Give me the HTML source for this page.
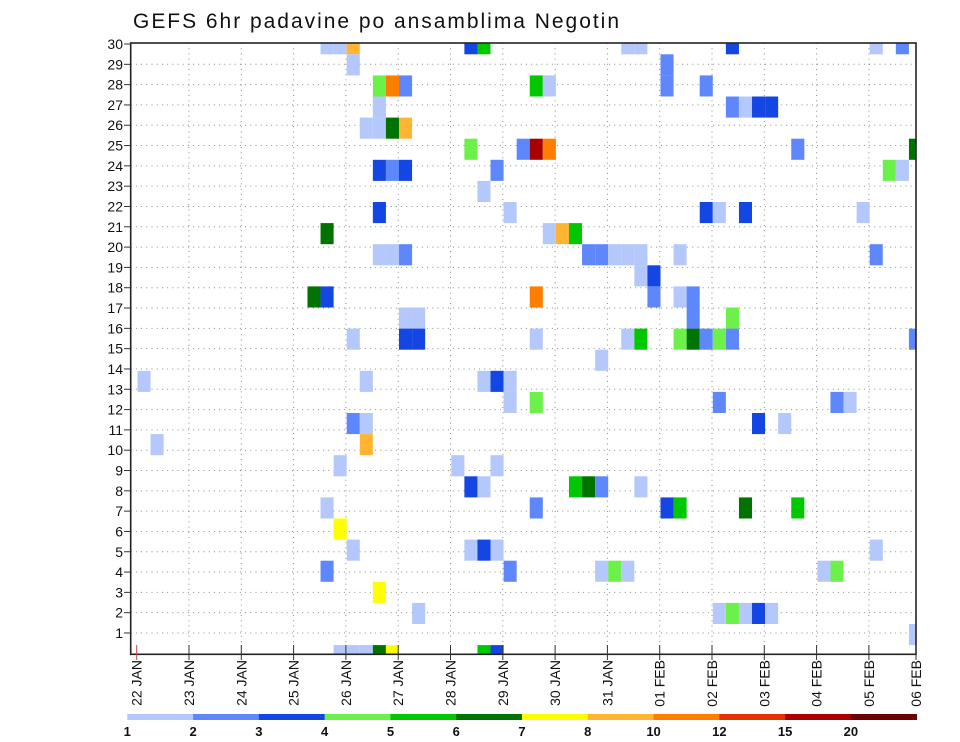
<!DOCTYPE html>
<html><head><meta charset="utf-8">
<style>
html,body{margin:0;padding:0;background:#fff;}
svg{display:block;font-family:"Liberation Sans",sans-serif;}
</style></head>
<body>
<svg id="chart" width="960" height="742" viewBox="0 0 960 742" xmlns="http://www.w3.org/2000/svg">
<text x="133" y="28" font-size="21" textLength="486" lengthAdjust="spacing" fill="#111">GEFS 6hr padavine po ansamblima Negotin</text>
<g id="grid"></g>
<g id="cells"></g>
<rect x="130.7" y="43" width="785.3" height="611.3" fill="none" stroke="#222" stroke-width="1.6"/>
<g id="axes"></g>
<g id="legend"></g>
</svg>
<script>
// ---- data ----
const dateLabels = ["22 JAN","23 JAN","24 JAN","25 JAN","26 JAN","27 JAN","28 JAN","29 JAN","30 JAN","31 JAN","01 FEB","02 FEB","03 FEB","04 FEB","05 FEB","06 FEB"];
const memberLabels = [1,2,3,4,5,6,7,8,9,10,11,12,13,14,15,16,17,18,19,20,21,22,23,24,25,26,27,28,29,30];
const legendLevels = [1,2,3,4,5,6,7,8,10,12,15,20];
const legendColors = ["#b4c8fc","#5f87fc","#1446e4","#6cf04a","#00c800","#007300","#ffff00","#ffb432","#ff7d00","#e63200","#aa0000","#6e0000"];
// cells: member, 6-hour step index from 22 JAN 00Z, precipitation (mm)
const cellMember = [
30,30,30,30,30,30,30,30,30,30,
29,29,
28,28,28,28,28,28,28,
27,27,27,27,27,
26,26,26,26,
25,25,25,25,25,25,
24,24,24,24,24,24,
23,
22,22,22,22,22,22,
21,21,21,21,
20,20,20,20,20,20,20,20,20,20,
19,19,
18,18,18,18,18,18,
17,17,17,17,
16,16,16,16,16,16,16,16,16,16,16,16,
15,
14,14,14,14,14,
13,13,13,13,13,
12,12,12,12,
11,11,
10,10,10,
9,9,9,9,9,9,
8,8,8,8,8,8,
7,
6,6,6,6,6,
5,5,5,5,5,5,5,
4,
3,3,3,3,3,3,
2,
1,1,1,1,1,1,1];
const cellStep = [
14,15,16,25,26,37,38,45,56,58,
16,40,
18,19,20,30,31,40,43,
18,45,46,47,48,
17,18,19,20,
25,29,30,31,50,59,
18,19,20,27,57,58,
26,
18,28,43,44,46,55,
14,31,32,33,
18,19,20,34,35,36,37,38,41,56,
38,39,
13,14,30,39,41,42,
20,21,42,45,
16,20,21,30,37,38,41,42,43,44,45,59,
35,
0,17,26,27,28,
28,30,44,53,54,
16,17,47,49,
1,17,
15,24,27,
25,26,33,34,35,38,
14,30,40,41,46,50,
15,
16,25,26,27,56,
14,28,35,36,37,52,53,
18,
21,44,45,46,47,48,
59,
15,16,17,18,19,26,27];
const cellValue = [
1.5,1.5,9,3.5,5.5,1.5,1.5,3.5,1.5,2.5,
1.5,2.5,
4.5,11,2.5,5.5,1.5,2.5,2.5,
1.5,2.5,1.5,3.5,3.5,
1.5,1.5,6.5,9,
4.5,2.5,17.5,11,2.5,6.5,
3.5,2.5,3.5,2.5,4.5,1.5,
1.5,
3.5,1.5,3.5,1.5,3.5,1.5,
6.5,1.5,9,5.5,
1.5,1.5,2.5,2.5,2.5,1.5,1.5,1.5,1.5,2.5,
1.5,3.5,
6.5,3.5,11,2.5,1.5,2.5,
1.5,1.5,2.5,4.5,
1.5,3.5,3.5,1.5,1.5,5.5,4.5,6.5,2.5,4.5,2.5,2.5,
1.5,
1.5,1.5,1.5,3.5,1.5,
1.5,4.5,2.5,2.5,1.5,
2.5,1.5,3.5,1.5,
1.5,9,
1.5,1.5,1.5,
3.5,1.5,5.5,6.5,2.5,1.5,
1.5,2.5,3.5,5.5,6.5,5.5,
7.5,
1.5,1.5,3.5,1.5,1.5,
2.5,2.5,1.5,4.5,1.5,1.5,4.5,
7.5,
1.5,1.5,4.5,1.5,3.5,1.5,
1.5,
1.5,1.5,1.5,6.5,7.5,5.5,3.5];

// ---- scales ----
const NS="http://www.w3.org/2000/svg";
const plotL=130.7, plotT=43, plotR=916, plotB=654.3;
const dayX0=136.7, dayW=52.3;
function xDay(d){return dayX0+d*dayW;}
function xStep(k){return xDay(k/4)+0.8;}
const stepW=dayW/4;
function yLabel(m){return 653.3-m*20.31;}
const cellH=21.1;
function yCellTop(m){return 33.2+(30-m)*cellH;}
function colorFor(v){let i=0;for(let j=0;j<legendLevels.length;j++){if(v>=legendLevels[j])i=j;}return legendColors[i];}
function mk(tag,attrs,parent){const e=document.createElementNS(NS,tag);for(const a in attrs)e.setAttribute(a,attrs[a]);parent.appendChild(e);return e;}

// grid
const grid=document.getElementById('grid');
for(let m=1;m<30;m++){
  const l=mk('line',{x1:plotL,x2:plotR,y1:yLabel(m),y2:yLabel(m),stroke:'#8a8a8a','stroke-width':1,'stroke-dasharray':'1 4.2'},grid);
  
  
}
for(let d=1;d<15;d++){
  const l=mk('line',{x1:xDay(d),x2:xDay(d),y1:plotT,y2:plotB,stroke:'#8a8a8a','stroke-width':1,'stroke-dasharray':'1 4.2'},grid);
  
  
}

// cells
const cg=document.getElementById('cells');
for(let i=0;i<cellMember.length;i++){
  let x=xStep(cellStep[i]), w=stepW, y=yCellTop(cellMember[i]), h=cellH;
  if(x<plotL){w-=plotL-x;x=plotL;}
  if(x+w>plotR){w=plotR-x;}
  if(y<plotT){h-=plotT-y;y=plotT;}
  if(y+h>plotB){h=plotB-y;}
  if(w<=0||h<=0)continue;
  const r=mk('rect',{x:x.toFixed(2),y:y.toFixed(2),width:w.toFixed(2),height:h.toFixed(2),fill:colorFor(cellValue[i])},cg);
  
  
}

// axes
const ax=document.getElementById('axes');
memberLabels.forEach(m=>{
  const y=yLabel(m);
  const t=mk('line',{x1:124,x2:plotL,y1:y,y2:y,stroke:'#333','stroke-width':1},ax);
  
  
  const tx=mk('text',{x:123,y:y+5,'font-size':14,'text-anchor':'end',fill:'#111'},ax);
  tx.textContent=m;
  
  
});
dateLabels.forEach((lab,d)=>{
  const x=Math.min(xDay(d),plotR);
  const t=mk('line',{x1:x,x2:x,y1:645,y2:660,stroke:d===0?'#c44':'#333','stroke-width':1},ax);
  
  
  const tx=mk('text',{x:0,y:0,'font-size':14,'text-anchor':'end',fill:'#111',transform:`translate(${x+5},660) rotate(-90)`},ax);
  tx.textContent=lab;
  
  
});

// legend
const lg=document.getElementById('legend');
const lgL=127.3, lgW=(916.7-127.3)/legendColors.length;
legendColors.forEach((c,i)=>{
  const r=mk('rect',{x:lgL+i*lgW,y:714,width:lgW+0.3,height:6,fill:c},lg);
  
  
  const t=mk('text',{x:lgL+i*lgW,y:736,'font-size':13,'text-anchor':'middle',fill:'#111','font-weight':'bold'},lg);
  t.textContent=legendLevels[i];
  
  
});
</script>
</body></html>
